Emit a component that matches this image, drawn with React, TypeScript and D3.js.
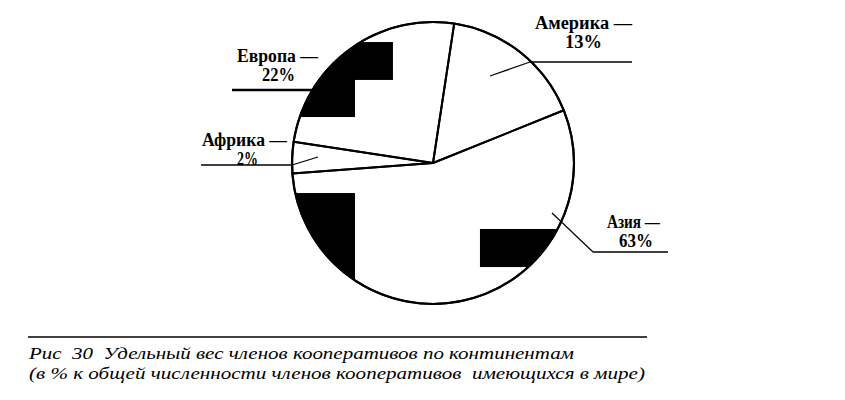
import React from "react";
import * as d3 from "d3";

// Categories in drawing order (clockwise from the top)
const categories = ["Америка", "Азия", "Африка", "Европа"];
// Printed percentages
const percentLabels = [13, 63, 2, 22];
// Angular shares as actually drawn in the picture (sum 100)
const drawnShares = [16.5, 54.9, 3.6, 25.0];
const startDeg = 8.65;

const captionLines = [
  "Рис  30  Удельный вес членов кооперативов по континентам",
  "(в % к общей численности членов кооперативов  имеющихся в мире)",
];

const W = 845;
const H = 400;
const cx = 433;
const cy = 163;
const R = 141;

// Label layout (pixel anchors for text and leader lines)
const labelLayout: Record<string, { tx: number; ty: number; tw: number; px: number; pw: number; lead: [number, number][]; sw: number }> = {
  "Америка": { tx: 535, ty: 29, tw: 97, px: 565, pw: 37, lead: [[632, 62], [530, 62], [490, 76]], sw: 1.6 },
  "Азия": { tx: 607, ty: 228, tw: 53, px: 619, pw: 34, lead: [[668, 252], [593, 252], [552, 213]], sw: 1.6 },
  "Африка": { tx: 202, ty: 146, tw: 85, px: 237, pw: 21, lead: [[201, 165], [292, 165], [318, 157]], sw: 1.3 },
  "Европа": { tx: 237, ty: 62, tw: 81, px: 262, pw: 33, lead: [[232, 90], [314, 90]], sw: 2.6 },
};

// Dark scanned patches, in units of radius relative to the centre
const patches = [
  { x0: -1.1, x1: -0.284, y0: -0.858, y1: -0.589 },
  { x0: -1.1, x1: -0.553, y0: -0.6, y1: -0.326 },
  { x0: -1.1, x1: -0.553, y0: 0.213, y1: 1.1 },
  { x0: 0.333, x1: 1.1, y0: 0.468, y1: 0.738 },
];

const serif = "Liberation Serif, Times New Roman, serif";

export default function App() {
  const pie = d3
    .pie<number>()
    .sort(null)
    .value((d) => d)
    .startAngle((startDeg * Math.PI) / 180)
    .endAngle((startDeg * Math.PI) / 180 + 2 * Math.PI);
  const arcs = pie(drawnShares);
  const arc = d3.arc<d3.PieArcDatum<number>>().innerRadius(0).outerRadius(R);
  const line = d3.line();

  const labelStyle: React.CSSProperties = { fontFamily: serif, fontWeight: 700, fontSize: "18px" };
  const capStyle: React.CSSProperties = { fontFamily: serif, fontStyle: "italic", fontSize: "17.5px", whiteSpace: "pre" };

  return (
    <svg width={W} height={H} style={{ display: "block", position: "absolute", left: 0, top: 0, background: "#fff" }}>
      <rect width={W} height={H} fill="#fff" />
      <defs>
        <clipPath id="pieclip">
          <circle cx={cx} cy={cy} r={R} />
        </clipPath>
      </defs>
      <g clipPath="url(#pieclip)">
        {patches.map((p, i) => (
          <rect
            key={i}
            x={cx + p.x0 * R}
            y={cy + p.y0 * R}
            width={(p.x1 - p.x0) * R}
            height={(p.y1 - p.y0) * R}
            fill="#000"
          />
        ))}
      </g>
      <g transform={`translate(${cx},${cy})`}>
        {arcs.map((a, i) => (
          <path key={i} d={arc(a) || ""} fill="none" stroke="#000" strokeWidth={2} strokeLinejoin="round" />
        ))}
      </g>
      <circle cx={cx} cy={cy} r={R} fill="none" stroke="#000" strokeWidth={2.2} />
      {categories.map((c, i) => {
        const L = labelLayout[c];
        const [hx0, hy] = L.lead[0];
        const hx1 = L.lead[1][0];
        return (
          <g key={c}>
            <line x1={hx0} y1={hy} x2={hx1} y2={hy} stroke="#000" strokeWidth={L.sw} />
            {L.lead.length > 2 && (
              <path d={line(L.lead.slice(1)) || ""} fill="none" stroke="#000" strokeWidth={1.2} />
            )}
            <text x={L.tx} y={L.ty} style={labelStyle} textLength={L.tw} lengthAdjust="spacingAndGlyphs" fill="#000">
              {c + " —"}
            </text>
            <text x={L.px} y={L.ty + 19} style={labelStyle} textLength={L.pw} lengthAdjust="spacingAndGlyphs" fill="#000">
              {percentLabels[i] + "%"}
            </text>
          </g>
        );
      })}
      <line x1={28} y1={337} x2={647} y2={337} stroke="#000" strokeWidth={1.6} />
      {captionLines.map((t, i) => (
        <text
          key={i}
          x={29}
          y={359 + i * 19.5}
          style={capStyle}
          textLength={i === 0 ? 545 : 616}
          lengthAdjust="spacingAndGlyphs"
          fill="#000"
        >
          {t}
        </text>
      ))}
    </svg>
  );
}
